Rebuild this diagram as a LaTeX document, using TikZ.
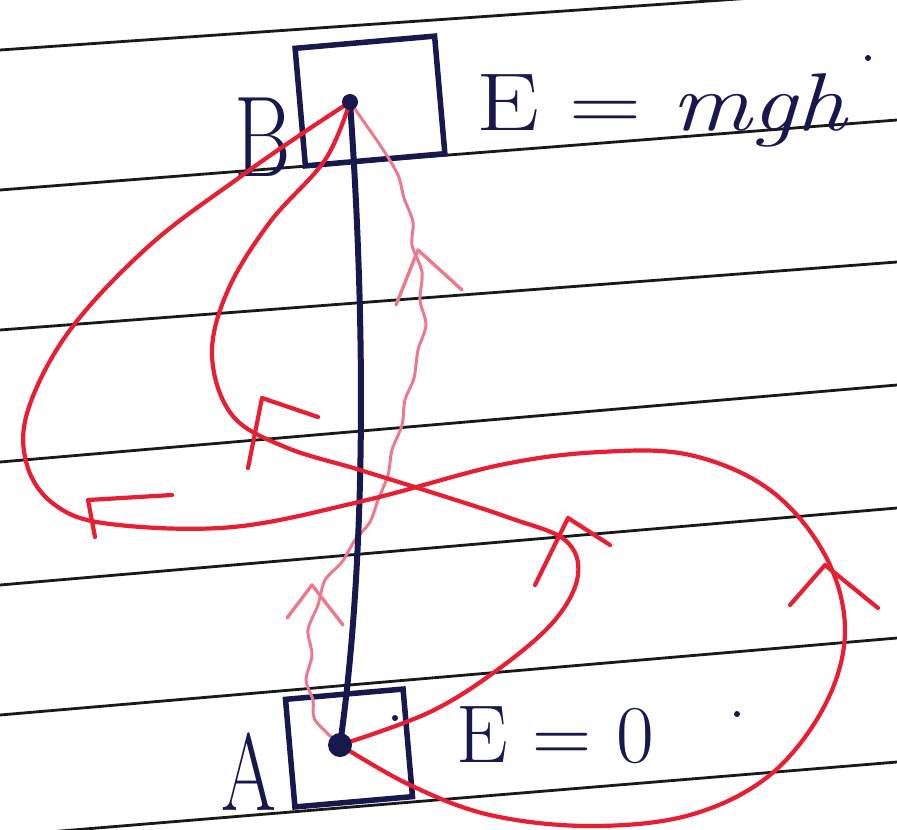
\documentclass[tikz,border=0pt]{standalone}
\definecolor{penred}{RGB}{232,30,50}
\definecolor{penpink}{RGB}{238,120,140}
\definecolor{navy}{RGB}{22,24,78}
\definecolor{ruleclr}{RGB}{25,25,25}
\begin{document}
\begin{tikzpicture}[x=1pt,y=-1pt,
  ruleline/.style={ruleclr, line width=2.8pt},
  redpen/.style={penred, line width=4.2pt, line cap=round, line join=round},
  pinkpen/.style={penpink, line width=3pt, line cap=round, line join=round},
  navypen/.style={navy, line width=6pt, line cap=round, line join=round},
  boxstyle/.style={draw=navy, line width=5.5pt, rectangle, inner sep=0pt},
  lbl/.style={text=navy, inner sep=0pt}]
\useasboundingbox (0,0) rectangle (897,830);
\fill[white] (0,0) rectangle (897,830);
% ruled paper
\begin{scope}
\clip (0,0) rectangle (897,830);
\draw[ruleline] (0,50) -- (897,-12);
\draw[ruleline] (0,190) -- (897,120);
\draw[ruleline] (0,330) -- (897,262);
\draw[ruleline] (0,462) -- (897,385);
\draw[ruleline] (0,585) -- (897,508);
\draw[ruleline] (0,715) -- (897,638);
\draw[ruleline] (0,836) -- (897,762);
\end{scope}
% boxes
\node[boxstyle, minimum width=140pt, minimum height=118pt, rotate=5] (boxB) at (370,101) {};
\node[boxstyle, minimum width=118pt, minimum height=108pt, rotate=5] (boxA) at (349,748) {};
% points
\coordinate (B) at (350,102);
\coordinate (A) at (340,745);
% labels
\node[lbl, anchor=base west, font=\fontsize{115}{115}\selectfont, xscale=0.75] (labB) at (234,176) {B};
\node[lbl, anchor=base west, font=\fontsize{110}{110}\selectfont, xscale=0.72] (labA) at (221,810) {A};
\node[lbl, anchor=base west, font=\fontsize{82}{82}\selectfont, xscale=1.22] (eqB) at (476,130) {E = \textit{mgh}};
\node[lbl, anchor=base west, font=\fontsize{82}{82}\selectfont] (eqA) at (456,762) {E = 0};
\fill[navy] (868,58) circle (3pt);
\fill[navy] (737,714) circle (3pt);
\fill[navy] (395,718) circle (3pt);
% faint wavy path
\draw[pinkpen]
  plot[smooth, tension=0.5] coordinates {(350,102) (382,148) (398,175) (404,198) (413,222) (412,245) (422,272) (420,300) (426,325) (418,350) (414,378) (405,400) (402,425) (392,450) (388,475) (378,500) (370,522) (355,540) (342,562) (325,580) (318,605) (308,630) (312,655) (306,680) (313,700) (315,720) (340,745)};
% vertical line
\draw[navypen] (B) .. controls (366,330) and (366,560) .. (A);
% outer red path
\draw[redpen] plot[smooth, tension=0.6] coordinates {(350,102) (300,135) (240,177) (150,245) (70,330) (28,410) (27,465) (55,505) (110,524) (233,527) (367,500) (500,465) (600,452) (690,455) (770,490) (825,555) (845,630) (825,705) (770,775) (690,815) (590,826) (490,815) (410,785) (340,745)};
% inner red path
\draw[redpen] plot[smooth, tension=0.6] coordinates {(350,102) (325,160) (270,222) (228,290) (212,355) (232,415) (285,447) (360,470) (440,495) (510,518) (565,540) (578,575) (555,620) (500,668) (430,712) (340,745)};
% arrow heads
\draw[redpen] (172,495) -- (88,500) -- (95,537);
\draw[redpen] (248,468) -- (262,398) -- (318,417);
\draw[redpen] (535,585) -- (568,518) -- (610,545);
\draw[redpen] (790,605) -- (825,565) -- (878,608);
\draw[pinkpen, line width=3.4pt] (396,305) -- (418,250) -- (462,290);
\draw[pinkpen, line width=3.4pt] (287,618) -- (312,585) -- (343,625);
% dots
\fill[navy] (B) circle (8pt);
\fill[navy] (A) circle (12pt);
\end{tikzpicture}
\end{document}
